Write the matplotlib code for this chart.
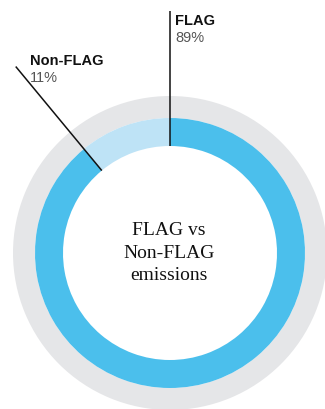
import numpy as np
import matplotlib
matplotlib.use("Agg")
import matplotlib.pyplot as plt

# Share of emissions
categories = ["Non-FLAG", "FLAG"]
shares = [11, 89]
share_labels = ["11%", "89%"]

W, H = 325, 409
fig = plt.figure(figsize=(W / 100, H / 100), dpi=100)
ax = fig.add_axes([0, 0, 1, 1])

cx, cy = 170, -253
r_gray, r_blue, r_hole = 157, 135, 107

# Outer grey halo
ax.pie([1], radius=r_gray, center=(cx, cy), colors=["#E5E6E8"],
       wedgeprops=dict(width=r_gray - r_blue, linewidth=0))

# Emissions ring
wedges, _ = ax.pie(shares, radius=r_blue, center=(cx, cy), startangle=90,
                   counterclock=True, colors=["#BEE3F6", "#4BBFEC"],
                   wedgeprops=dict(width=r_blue - r_hole, linewidth=0))

# Leader lines along the end boundary of each slice
r_end = 242
label_pos = {"FLAG": (175, -25), "Non-FLAG": (30, -65)}
for w, name, pct in zip(wedges, categories, share_labels):
    ang = np.deg2rad(w.theta2)
    xs = [cx + r_hole * np.cos(ang), cx + r_end * np.cos(ang)]
    ys = [cy + r_hole * np.sin(ang), cy + r_end * np.sin(ang)]
    ax.plot(xs, ys, color="#111111", lw=1.1, solid_capstyle="butt")
    tx, ty = label_pos[name]
    ax.text(tx, ty, name, fontsize=10.5, fontweight="bold",
            family="Liberation Sans", color="#111111", va="baseline", ha="left")
    ax.text(tx, ty - 16.5, pct, fontsize=10.5, family="Liberation Sans",
            color="#555555", va="baseline", ha="left")

# Centre title
for i, line in enumerate(["FLAG vs", "Non-FLAG", "emissions"]):
    ax.text(169, -235 - 22.5 * i, line, fontsize=14, family="Liberation Serif",
            color="#111111", ha="center", va="baseline")

ax.set_xlim(0, W)
ax.set_ylim(-H, 0)
ax.set_aspect("equal")
ax.axis("off")
fig.savefig("out.png", dpi=100)
